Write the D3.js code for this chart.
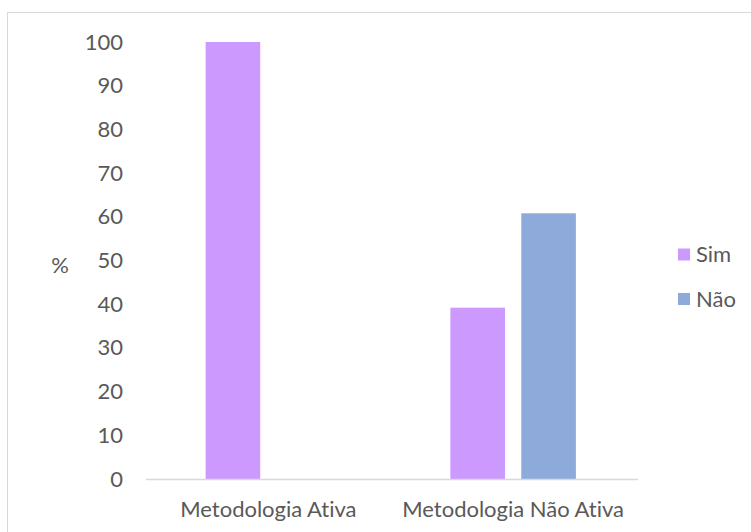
<!DOCTYPE html>
<html><head><meta charset="utf-8">
<script src="https://cdn.jsdelivr.net/npm/d3@7"></script>
<style>body{margin:0;background:#fff}svg{display:block}text{font-variant-ligatures:none;font-feature-settings:"liga" 0,"clig" 0}</style>
</head><body>
<svg id="c" width="751" height="532"></svg>
<script>
const categories = ["Metodologia Ativa", "Metodologia Não Ativa"];
const seriesNames = ["Sim", "Não"];
const simValues = [100, 39.2];
const naoValues = [0, 60.8];
const yTicks = [0,10,20,30,40,50,60,70,80,90,100];
const colors = ["#CC99FF", "#8EAADB"];
const font = "Lato, 'Open Sans', sans-serif";
const textColor = "#595959";
const fs = 22;

const svg = d3.select("#c");
svg.append("rect").attr("x",7.5).attr("y",12.5).attr("width",760).attr("height",540)
  .attr("fill","none").attr("stroke","#D9D9D9");

const x0 = d3.scaleBand().domain(categories).range([146,635.5]).paddingInner(0).paddingOuter(0);
const x1 = d3.scaleBand().domain(seriesNames).range([0,125.5]).paddingInner(0.23).paddingOuter(0);
const y = d3.scaleLinear().domain([0,100]).range([479,42]);

// bars
const data = categories.map((c,i)=>({cat:c, vals:[simValues[i], naoValues[i]]}));
const g = svg.append("g");
data.forEach(d=>{
  const off = x0(d.cat) + (x0.bandwidth()-125.5)/2;
  d.vals.forEach((v,j)=>{
    if(v<=0) return;
    g.append("rect").attr("x",off + x1(seriesNames[j])).attr("width",x1.bandwidth())
      .attr("y",y(v)).attr("height",y(0)-y(v)).attr("fill",colors[j]);
  });
});

// x axis line
svg.append("line").attr("x1",146).attr("x2",638).attr("y1",479.5).attr("y2",479.5)
  .attr("stroke","#D9D9D9").attr("stroke-width",1.5);

// y tick labels
const yAxis = d3.axisLeft(y).tickValues(yTicks).tickSize(0).tickPadding(0);
const ya = svg.append("g").attr("transform","translate(123,0)").call(yAxis);
ya.select(".domain").remove();
ya.selectAll("text").attr("font-family",font).attr("font-size",fs).attr("fill",textColor);

// x labels
const xAxis = d3.axisBottom(x0).tickSize(0).tickPadding(0);
const xa = svg.append("g").attr("transform","translate(0,509)").call(xAxis);
xa.select(".domain").remove();
xa.selectAll("text").attr("font-family",font).attr("font-size",fs).attr("fill",textColor).attr("dy","0.35em");

// y title
svg.append("text").attr("x",60).attr("y",265).attr("dy","0.35em").attr("text-anchor","middle")
  .attr("font-family",font).attr("font-size",fs).attr("fill",textColor).text("%");

// legend
const legY = d3.scalePoint().domain(seriesNames).range([254.5,299]);
seriesNames.forEach((s,i)=>{
  svg.append("rect").attr("x",678).attr("y",legY(s)-6).attr("width",12).attr("height",12).attr("fill",colors[i]);
  svg.append("text").attr("x",696).attr("y",legY(s)).attr("dy","0.35em")
    .attr("font-family",font).attr("font-size",fs).attr("fill",textColor).text(s);
});
</script>
</body></html>
